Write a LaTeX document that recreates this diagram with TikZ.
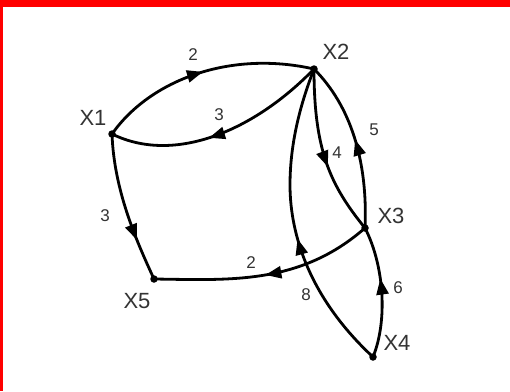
\documentclass[tikz,border=0pt]{standalone}
\usepackage{fontspec}
\setmainfont{Liberation Sans}
\usetikzlibrary{arrows.meta,decorations.markings}
\definecolor{txt}{HTML}{333333}
\tikzset{
  vdot/.style={circle,fill=black,inner sep=0pt,minimum size=7.5pt},
  vlab/.style={text=txt,font=\fontsize{22}{22}\selectfont,inner sep=0pt},
  wlab/.style={text=txt,font=\fontsize{17}{17}\selectfont,inner sep=0pt},
  wedge/.style={line width=2.8pt,postaction={decorate},
    decoration={markings,mark=at position #1 with {\arrow{Triangle[length=16pt,width=12pt]}}}}
}
\begin{document}
\begin{tikzpicture}[x=1pt,y=-1pt]
\useasboundingbox (0,0) rectangle (510,391);
\fill[red] (0,0) rectangle (510,7);
\fill[red] (0,0) rectangle (2.5,391);
% vertices
\node[vdot] (X1) at (112,134) {};
\node[vdot] (X2) at (314,69) {};
\node[vdot] (X3) at (365,228) {};
\node[vdot] (X4) at (373,357) {};
\node[vdot] (X5) at (154,279) {};
\node[vlab] (L1) at (93,118) {X1};
\node[vlab] (L2) at (336,52) {X2};
\node[vlab] (L3) at (391,216) {X3};
\node[vlab] (L4) at (397,343) {X4};
\node[vlab] (L5) at (137,301) {X5};
\coordinate (c8) at (290,185);
% edges
\draw[wedge=0.5] (X1.center) .. controls (150,80) and (230,50) .. (X2.center);
\draw[wedge=0.56] (X2.center) .. controls (255,130) and (175,165) .. (X1.center);
\draw[wedge=0.72] (X1.center) .. controls (114,190) and (136,240) .. (X5.center);
\draw[wedge=0.5] (X3.center) .. controls (300,285) and (230,280) .. (X5.center);
\draw[wedge=0.58] (X2.center) .. controls (314,150) and (330,185) .. (X3.center);
\draw[wedge=0.52] (X3.center) .. controls (368,160) and (350,105) .. (X2.center);
\draw[wedge=0.45] (X4.center) .. controls (303,292) and (290,225) .. (c8) .. controls (290,140) and (302,100) .. (X2.center);
\draw[wedge=0.6] (X4.center) .. controls (388,320) and (384,265) .. (X3.center);
% weights
\node[wlab] (w12) at (193,55) {2};
\node[wlab] (w21) at (219,115) {3};
\node[wlab] (w15) at (105,216) {3};
\node[wlab] (w35) at (251,263) {2};
\node[wlab] (w23) at (337,153) {4};
\node[wlab] (w32) at (374,130) {5};
\node[wlab] (w42) at (306,295) {8};
\node[wlab] (w43) at (398,288) {6};
\end{tikzpicture}
\end{document}
